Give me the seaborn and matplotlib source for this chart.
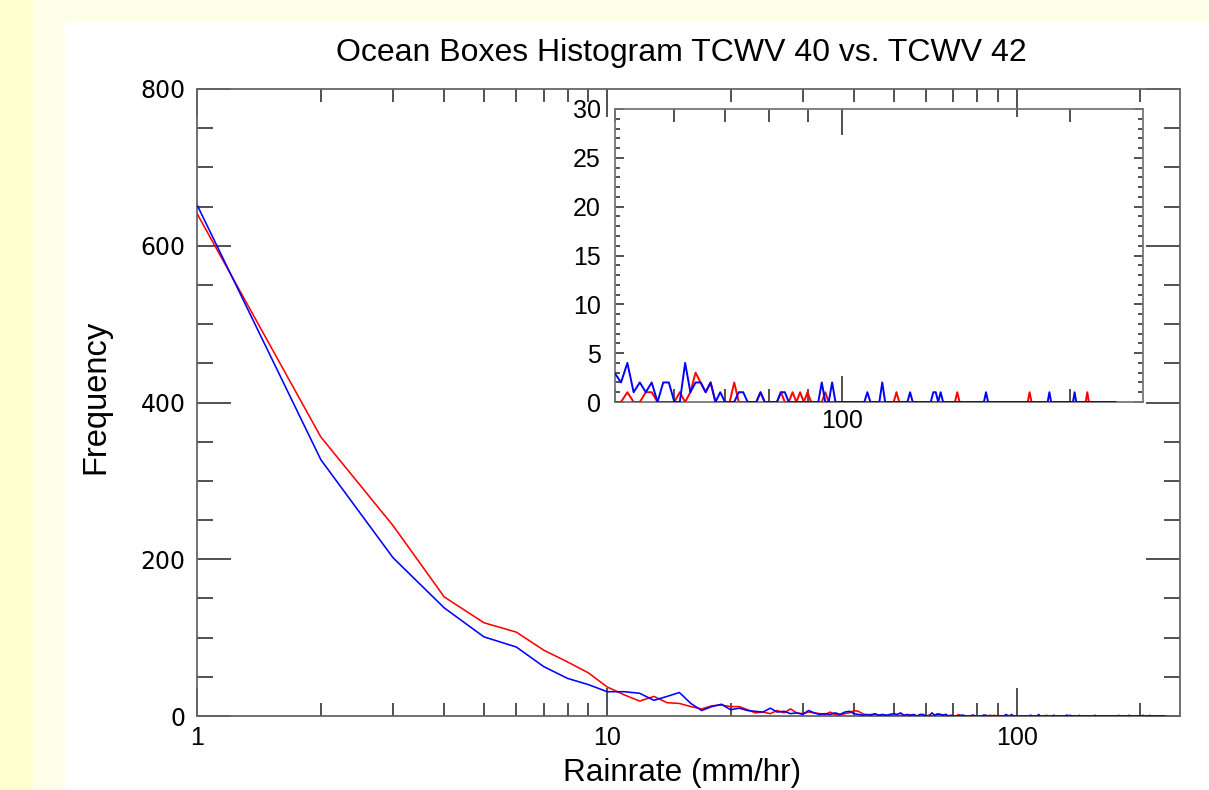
import numpy as np
import pandas as pd
import matplotlib
matplotlib.use("Agg")
import matplotlib.pyplot as plt
import seaborn as sns
from matplotlib.ticker import LogLocator, MultipleLocator, NullFormatter
from matplotlib.patches import Rectangle

# Rain-rate histogram bins (mm/hr), 1 mm/hr wide
rainrate_bins = list(range(1, 231))

# Counts per bin for bins 1..49
tcwv40_low = [640, 356, 243, 152, 119, 107, 84, 69, 55, 37,
              27, 19, 25, 17, 16, 12, 9, 13, 14, 12,
              12, 8, 4, 5, 3, 7, 4, 9, 4, 3,
              5, 4, 3, 2, 5, 2, 1, 3, 4, 7,
              6, 3, 1, 2, 2, 1, 1, 0, 1]
tcwv42_low = [651, 327, 202, 138, 101, 88, 63, 48, 40, 31,
              31, 29, 20, 25, 30, 16, 7, 12, 15, 8,
              10, 7, 6, 5, 10, 5, 6, 3, 4, 2,
              7, 4, 2, 3, 2, 4, 2, 5, 6, 3,
              2, 1, 2, 1, 3, 1, 2, 1, 2]

# Heavy-rain tail (bins >= 50): only bins with a non-zero count
tcwv40_tail_bins = [52, 55, 56, 61, 63, 64, 65, 66, 67, 72, 78, 83, 86, 88, 90, 95,
                    118, 142, 177, 211]
tcwv40_tail_counts = [1, 1, 1, 1, 1, 3, 2, 1, 2, 2, 1, 1, 1, 1, 1, 1,
                      1, 1, 1, 1]
tcwv42_tail_bins = [50, 51, 52, 53, 54, 55, 56, 58, 59, 62, 63, 64, 65, 66, 67, 69,
                    73, 74, 78, 83, 84, 94, 97, 108, 113, 123, 132, 133, 135, 155,
                    188, 203]
tcwv42_tail_counts = [3, 2, 4, 1, 2, 1, 2, 2, 2, 4, 1, 2, 2, 1, 2, 1,
                      1, 1, 1, 1, 1, 2, 2, 1, 2, 1, 1, 1, 1, 1,
                      1, 1]

series_names = ["TCWV 40", "TCWV 42"]
series_colors = ["#ff0000", "#0000ff"]


def full_counts(low, tail_bins, tail_counts):
    counts = dict(zip(range(1, len(low) + 1), low))
    counts.update(zip(tail_bins, tail_counts))
    return [counts.get(b, 0) for b in rainrate_bins]


df = pd.concat([
    pd.DataFrame({"rainrate": rainrate_bins,
                  "count": full_counts(tcwv40_low, tcwv40_tail_bins, tcwv40_tail_counts),
                  "case": series_names[0]}),
    pd.DataFrame({"rainrate": rainrate_bins,
                  "count": full_counts(tcwv42_low, tcwv42_tail_bins, tcwv42_tail_counts),
                  "case": series_names[1]}),
], ignore_index=True)
palette = dict(zip(series_names, series_colors))

sns.set_theme(style="ticks")
plt.rcParams["font.family"] = ["Liberation Sans", "DejaVu Sans"]

W, H = 1209, 790
fig = plt.figure(figsize=(W / 100, H / 100), dpi=100)
fig.patch.set_facecolor("white")

# slide backdrop: yellow strip on the left and a pale cream frame
fig.add_artist(Rectangle((0, 0), 33 / W, 1, transform=fig.transFigure,
                         facecolor="#ffffd0", edgecolor="none", zorder=0))
fig.add_artist(Rectangle((33 / W, 0), 32 / W, 1, transform=fig.transFigure,
                         facecolor="#fffee8", edgecolor="none", zorder=0))
fig.add_artist(Rectangle((33 / W, 1 - 22 / H), 1, 22 / H, transform=fig.transFigure,
                         facecolor="#fffee8", edgecolor="none", zorder=0))


def px_axes(left, top, right, bottom):
    return [left / W, 1 - bottom / H, (right - left) / W, (bottom - top) / H]


spine_col = "#666666"
tick_col = "#222222"

# ---- main histogram ----
ax = fig.add_axes(px_axes(197.5, 89, 1180, 716))
ax.set_facecolor("none")
sns.lineplot(data=df, x="rainrate", y="count", hue="case", palette=palette,
             estimator=None, linewidth=1.15, legend=False, ax=ax, zorder=3)
ax.set_xscale("log")
ax.set_xlim(1, 250)
ax.set_ylim(0, 800)
ax.set_xlabel("")
ax.set_ylabel("")
ax.set_xticks([1, 10, 100], labels=["1", "10", "100"],
              fontfamily=["Liberation Sans Narrow", "Liberation Sans"], fontsize=18)
ax.xaxis.set_minor_locator(LogLocator(base=10, subs=range(2, 10), numticks=20))
ax.xaxis.set_minor_formatter(NullFormatter())
ax.set_yticks([0, 200, 400, 600, 800], labels=["0", "200", "400", "600", "800"],
              fontfamily="DejaVu Sans", fontsize=17)
ax.yaxis.set_minor_locator(MultipleLocator(50))
ax.tick_params(which="both", direction="in", top=True, right=True,
               color=tick_col, width=1.1, labelcolor="black")
ax.tick_params(axis="y", which="major", length=24.5, pad=8.6)
ax.tick_params(axis="y", which="minor", length=11.5)
ax.tick_params(axis="x", which="major", length=20, pad=7.5)
ax.tick_params(axis="x", which="minor", length=9.4)
for s in ax.spines.values():
    s.set_color(spine_col)
    s.set_linewidth(1.3)

# ---- inset: heavy-rain tail ----
axin = fig.add_axes(px_axes(614.5, 109, 1143, 402))
axin.set_facecolor("none")
sns.lineplot(data=df, x="rainrate", y="count", hue="case", palette=palette,
             estimator=None, linewidth=1.4, legend=False, ax=axin, zorder=3)
axin.set_xscale("log")
axin.set_xlim(50, 250)
axin.set_ylim(0, 30)
axin.set_xlabel("")
axin.set_ylabel("")
axin.set_xticks([100], labels=["100"], fontsize=18)
axin.xaxis.set_minor_locator(LogLocator(base=10, subs=range(2, 10), numticks=20))
axin.xaxis.set_minor_formatter(NullFormatter())
axin.set_yticks(range(0, 31, 5), labels=[str(v) for v in range(0, 31, 5)], fontsize=18)
axin.yaxis.set_minor_locator(MultipleLocator(1))
axin.tick_params(which="both", direction="in", top=True, right=True,
                 color=tick_col, width=1.1, labelcolor="black")
axin.tick_params(axis="y", which="major", length=6.5, pad=10)
axin.tick_params(axis="y", which="minor", length=3.6)
axin.tick_params(axis="x", which="major", length=18.7, pad=5)
axin.tick_params(axis="x", which="minor", length=9.4)
for s in axin.spines.values():
    s.set_color("#777777")
    s.set_linewidth(1.3)

# ---- titles ----
fig.text(681.5 / W, 1 - 53 / H, "Ocean Boxes Histogram TCWV 40 vs. TCWV 42",
         ha="center", va="center", fontsize=23, color="black")
fig.text(682 / W, 1 - 773 / H, "Rainrate (mm/hr)",
         ha="center", va="center", fontsize=22.7, color="black")
fig.text(96 / W, 1 - 397 / H, "Frequency", rotation=90,
         ha="center", va="center", fontsize=23.5, color="black")

fig.savefig("out.png", dpi=100, facecolor=fig.get_facecolor())
